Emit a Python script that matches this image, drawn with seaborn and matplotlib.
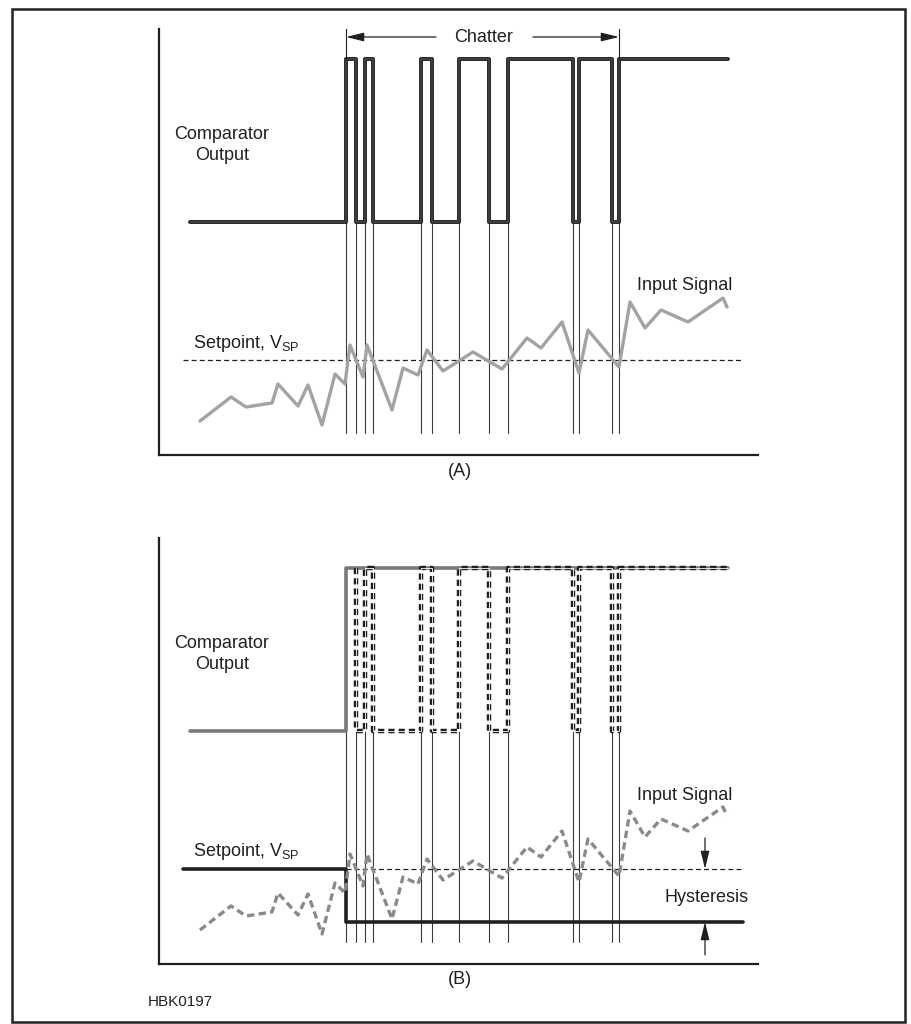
import numpy as np
import matplotlib
matplotlib.use("Agg")
import matplotlib.pyplot as plt
import matplotlib.patches as mpatches
import seaborn as sns

sns.set_theme(style="white")
plt.rcParams["font.family"] = ["Liberation Sans", "DejaVu Sans"]

# ── data (time units along the panel, level units above the panel floor) ─────
# input signal samples
sig_t = [41, 72, 87, 113, 119, 139, 149, 163, 176, 186, 191, 204, 208, 233,
         244, 259, 268, 284, 314, 343, 368, 382, 403, 420, 429, 460, 471, 486,
         502, 529, 564, 568]
sig_v = [34, 58, 48, 52, 71, 49, 70, 30, 81, 71, 110, 78, 110, 45,
         87, 80, 105, 84, 103, 86, 117, 107, 133, 82, 125, 88, 153, 127,
         145, 133, 157, 148]

# comparator switching instants (where the input crosses the setpoint)
switch_t = [187, 197, 206, 214, 262, 273, 300, 330, 349, 414, 420, 453, 460]
out_start, out_end = 31, 569
out_low, out_high = 233, 396
setpoint = 95
setpoint_start, setpoint_end = 24, 584
hyst_low = 42
guide_bottom = 22

INK = "#231f20"
FS = 13


def step_path(t0, t1, times, start_level, other_level):
    xs, ys = [t0], [start_level]
    lvl = start_level
    for t in times:
        xs.append(t)
        ys.append(lvl)
        lvl = other_level if lvl == start_level else start_level
        xs.append(t)
        ys.append(lvl)
    xs.append(t1)
    ys.append(lvl)
    return xs, ys


def line(ax, x, y, **kw):
    sns.lineplot(x=x, y=y, sort=False, estimator=None, ax=ax, **kw)


fig = plt.figure(figsize=(9.12, 10.24), dpi=100)
axA = fig.add_axes([159 / 912, (1024 - 455) / 1024, (758 - 159) / 912, 426 / 1024])
axB = fig.add_axes([159 / 912, (1024 - 964) / 1024, (758 - 159) / 912, 426 / 1024])

for ax in (axA, axB):
    ax.set_xlim(0, 599)
    ax.set_ylim(0, 426)
    ax.set_xticks([])
    ax.set_yticks([])
    ax.set_facecolor("none")
    for s in ("top", "right"):
        ax.spines[s].set_visible(False)
    for s in ("left", "bottom"):
        ax.spines[s].set_color(INK)
        ax.spines[s].set_linewidth(1.6)
    # thin guide lines at each switching instant
    for t in switch_t:
        line(ax, [t, t], [out_low, guide_bottom], color="#3a3a3a", lw=0.8)

# ── (A) comparator without hysteresis ─────────────────────────────────────────
ox, oy = step_path(out_start, out_end, switch_t, out_low, out_high)
line(axA, ox, oy, color=INK, lw=2.8)
line(axA, ox, oy, color="#9a9a9a", lw=0.35)

line(axA, [setpoint_start, setpoint_end], [setpoint, setpoint],
     color=INK, lw=0.9, linestyle=(0, (4, 2.5)))
line(axA, sig_t, sig_v, color="#a3a3a3", lw=2.4)

axA.text(63, 310, "Comparator\nOutput", ha="center", va="center", fontsize=FS,
         linespacing=1.3, color=INK)
axA.text(34, 112, r"Setpoint, V$_\mathregular{SP}$", ha="left", va="center",
         fontsize=FS, color=INK)
axA.text(526, 170, "Input Signal", ha="center", va="center", fontsize=FS, color=INK)
axA.text(301, -17, "(A)", ha="center", va="center", fontsize=FS, color=INK,
         clip_on=False)

# chatter span
chat_y = 418
axA.annotate("", xy=(switch_t[0], chat_y), xytext=(277, chat_y),
             arrowprops=dict(arrowstyle="-|>,head_length=0.9,head_width=0.22",
                             color=INK, lw=0.9, shrinkA=0, shrinkB=0),
             annotation_clip=False)
axA.annotate("", xy=(switch_t[-1], chat_y), xytext=(374, chat_y),
             arrowprops=dict(arrowstyle="-|>,head_length=0.9,head_width=0.22",
                             color=INK, lw=0.9, shrinkA=0, shrinkB=0),
             annotation_clip=False)
for t in (switch_t[0], switch_t[-1]):
    line(axA, [t, t], [427, out_high], color=INK, lw=0.8)
axA.text(325, chat_y, "Chatter", ha="center", va="center", fontsize=FS, color=INK,
         clip_on=False)

# ── (B) comparator with hysteresis ────────────────────────────────────────────
bx = [out_start, switch_t[0], switch_t[0], out_end]
by = [out_low, out_low, out_high, out_high]
line(axB, bx, by, color="#7a7a7a", lw=2.6)

# suppressed chatter, drawn dashed
cx, cy = step_path(switch_t[1], out_end, switch_t[1:], out_high, out_low)
line(axB, cx, cy, color=INK, lw=3.2, linestyle=(0, (1.4, 0.9)))
line(axB, cx, cy, color="white", lw=0.6)

# setpoint drops to the lower threshold once the output switches
sx = [setpoint_start, switch_t[0], switch_t[0], setpoint_end]
sy = [setpoint, setpoint, hyst_low, hyst_low]
line(axB, sx, sy, color=INK, lw=2.6)
line(axB, [switch_t[0], setpoint_end], [setpoint, setpoint],
     color=INK, lw=0.9, linestyle=(0, (4, 2.5)))

line(axB, sig_t, sig_v, color="#8a8a8a", lw=2.4, linestyle=(0, (2.2, 1.3)))

axB.text(63, 310, "Comparator\nOutput", ha="center", va="center", fontsize=FS,
         linespacing=1.3, color=INK)
axB.text(34, 112, r"Setpoint, V$_\mathregular{SP}$", ha="left", va="center",
         fontsize=FS, color=INK)
axB.text(526, 168, "Input Signal", ha="center", va="center", fontsize=FS, color=INK)
axB.text(590, 67, "Hysteresis", ha="right", va="center", fontsize=FS, color=INK)
axB.text(301, -16, "(B)", ha="center", va="center", fontsize=FS, color=INK,
         clip_on=False)
axB.text(-11, -38, "HBK0197", ha="left", va="center", fontsize=11, color=INK,
         clip_on=False)

hx = 546
axB.annotate("", xy=(hx, setpoint), xytext=(hx, 126),
             arrowprops=dict(arrowstyle="-|>,head_length=0.9,head_width=0.22",
                             color=INK, lw=0.9, shrinkA=0, shrinkB=0))
axB.annotate("", xy=(hx, hyst_low), xytext=(hx, 9),
             arrowprops=dict(arrowstyle="-|>,head_length=0.9,head_width=0.22",
                             color=INK, lw=0.9, shrinkA=0, shrinkB=0))

# outer frame
fig.patches.append(mpatches.Rectangle((12 / 912, 2 / 1024), (905 - 12) / 912,
                                      (1015 - 2) / 1024, transform=fig.transFigure,
                                      fill=False, edgecolor=INK, lw=1.8))

fig.savefig("out.png", dpi=100)
plt.close(fig)
